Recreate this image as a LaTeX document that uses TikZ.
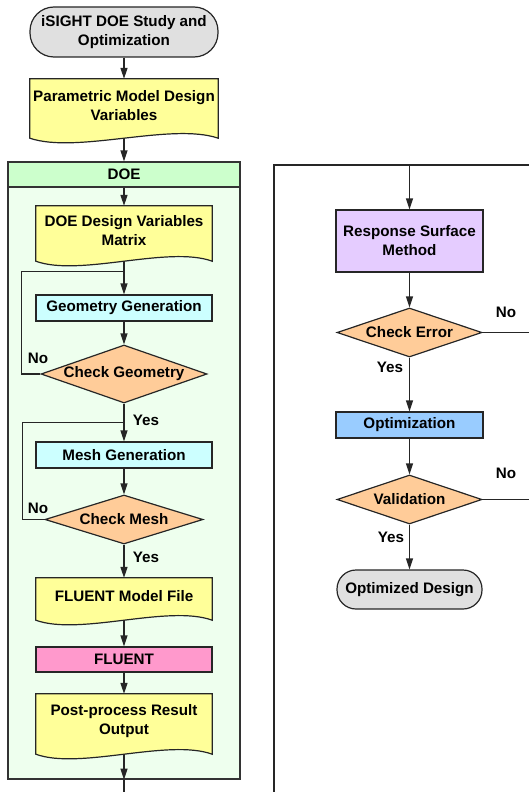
\documentclass[tikz,border=0pt]{standalone}
\usepackage{fontspec}
\setmainfont{Liberation Sans}
\usetikzlibrary{shapes.geometric,calc,arrows.meta}
\pgfdeclarelayer{bg}
\pgfdeclarelayer{docs}
\pgfsetlayers{bg,docs,main}
\definecolor{termgray}{HTML}{E0E0E0}
\definecolor{docyellow}{HTML}{FFFF99}
\definecolor{proccyan}{HTML}{CCFFFF}
\definecolor{decorange}{HTML}{FFCC99}
\definecolor{fluentpink}{HTML}{FF99CC}
\definecolor{rsmpurple}{HTML}{E5CCFF}
\definecolor{optblue}{HTML}{99CCFF}
\definecolor{doegreen}{HTML}{CCFFCC}
\definecolor{doepale}{HTML}{EEFFEE}
\newcommand{\docwave}[1]{%
  \begin{pgfonlayer}{docs}
    \filldraw[docshape] (#1.north west) -- (#1.north east) -- ($(#1.south east)+(0,5)$)
      .. controls ($(#1.south)!0.5!(#1.south east)+(0,-11)$) and ($(#1.south)!0.5!(#1.south west)+(0,21)$) .. ($(#1.south west)+(0,5)$) -- cycle;
  \end{pgfonlayer}
  \coordinate (#1-b) at ($(#1.south)+(0,5)$)}
\begin{document}
\begin{tikzpicture}[x=1pt,y=-1pt,
    lbl/.style={font=\bfseries\fontsize{15.2}{19}\selectfont, align=center, inner sep=0pt},
    term/.style={lbl, rectangle, rounded corners=#1, draw=black!85, line width=1.2pt, fill=termgray},
    proc/.style={lbl, rectangle, draw=black!85, line width=1.2pt, fill=#1, minimum height=26},
    doc/.style={lbl, rectangle, minimum width=176},
    docshape/.style={draw=black!85, line width=1.2pt, fill=docyellow},
    decision/.style={lbl, diamond, draw=black!85, line width=1.2pt, fill=decorange},
    arr/.style={draw=black!85, line width=1.2pt, -{Triangle[length=11pt,width=7pt]}},
    wire/.style={draw=black!85, line width=1.2pt}]
  \useasboundingbox (0,0) rectangle (529,792);

  \begin{pgfonlayer}{bg}
    \node[fill=doepale, draw=black!80, line width=1.2pt, minimum width=232, minimum height=617, inner sep=0pt] (doebox) at (124,470.5) {};
  \end{pgfonlayer}
  \node[lbl, fill=doegreen, draw=black!80, line width=1.2pt, minimum width=232, minimum height=25] (doehead) at (124,174.5) {DOE};

  \node[term=24, minimum width=188, minimum height=50] (start) at (124,32) {iSIGHT DOE Study and\\Optimization};
  \node[doc, minimum width=188, minimum height=54] (param) at (124,106) {Parametric Model Design\\Variables};
  \docwave{param};
  \draw[arr] (start) -- (param);
  \draw[arr] (param-b) -- (doehead);

  \node[doc, minimum height=50] (matrix) at (124,231) {DOE Design Variables\\Matrix};
  \docwave{matrix};
  \draw[arr] (doehead) -- (matrix);
  \node[proc=proccyan, minimum width=176] (geo) at (124,308) {Geometry Generation};
  \coordinate (geo-in) at ($(geo.north)+(0,-23)$);
  \draw[arr] (matrix-b) -- (geo);
  \node[decision, aspect=2.86, minimum width=166, minimum height=58] (chkgeo) at (124,374) {Check Geometry};
  \draw[arr] (geo) -- (chkgeo);
  \draw[wire] (chkgeo.west) -- ++(-19,0) |- (geo-in);
  \node[lbl] (nogeo) at (38,358) {No};
  \node[lbl] (yesgeo) at (146,420) {Yes};

  \node[proc=proccyan, minimum width=176] (mesh) at (124,455) {Mesh Generation};
  \coordinate (mesh-in) at ($(mesh.north)+(0,-19)$);
  \draw[arr] (chkgeo) -- (mesh);
  \node[decision, aspect=3.2, minimum width=158, minimum height=49] (chkmesh) at (124,519.5) {Check Mesh};
  \draw[arr] (mesh) -- (chkmesh);
  \draw[wire] (chkmesh.west) -- ++(-22,0) |- (mesh-in);
  \node[lbl] (nomesh) at (38,508) {No};
  \node[lbl] (yesmesh) at (146,557) {Yes};

  \node[doc, minimum height=37] (fmodel) at (124,596.5) {FLUENT Model File};
  \docwave{fmodel};
  \draw[arr] (chkmesh) -- (fmodel);
  \node[proc=fluentpink, minimum width=176, minimum height=25] (fluent) at (124,659.5) {FLUENT};
  \draw[arr] (fmodel-b) -- (fluent);
  \node[doc, minimum height=55] (post) at (124,721.5) {Post-process Result\\Output};
  \docwave{post};
  \draw[arr] (fluent) -- (post);
  \coordinate (doeout) at (post-b |- doebox.south);
  \coordinate (downend) at (124,792);
  \draw[arr] (post-b) -- (doeout);
  \draw[wire] (doeout) -- (downend);

  \coordinate (loopbot) at (274,792);
  \coordinate (looptop) at (274,165);
  \coordinate (loopend) at (529,165);
  \draw[wire] (loopbot) -- (looptop) -- (loopend);
  \node[proc=rsmpurple, minimum width=147, minimum height=62] (rsm) at (409.5,241) {Response Surface\\Method};
  \draw[arr] (rsm |- looptop) -- (rsm);
  \node[decision, aspect=2.96, minimum width=145, minimum height=49] (chkerr) at (409.5,332.5) {Check Error};
  \draw[arr] (rsm) -- (chkerr);
  \coordinate (errout) at (529,332.5);
  \draw[wire] (chkerr.east) -- (errout);
  \node[lbl] (noerr) at (506,312) {No};
  \node[lbl] (yeserr) at (390,367) {Yes};
  \node[proc=optblue, minimum width=147] (opt) at (409.5,425) {Optimization};
  \draw[arr] (chkerr) -- (opt);
  \node[decision, aspect=2.96, minimum width=145, minimum height=49] (valid) at (409.5,499.5) {Validation};
  \draw[arr] (opt) -- (valid);
  \coordinate (valout) at (529,499.5);
  \draw[wire] (valid.east) -- (valout);
  \node[lbl] (noval) at (506,473) {No};
  \node[lbl] (yesval) at (391,537) {Yes};
  \node[term=19, minimum width=145, minimum height=39] (final) at (409.5,589.5) {Optimized Design};
  \draw[arr] (valid) -- (final);
\end{tikzpicture}
\end{document}
